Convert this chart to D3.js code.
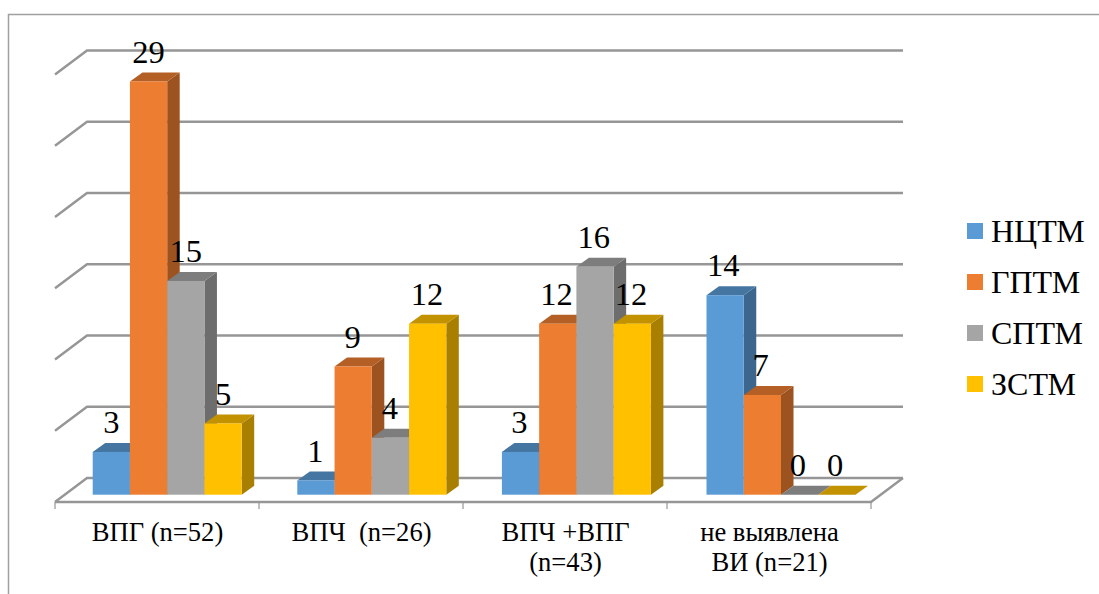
<!DOCTYPE html>
<html>
<head>
<meta charset="utf-8">
<script src="https://cdn.jsdelivr.net/npm/d3@7"></script>
<style>
  html, body { margin: 0; padding: 0; background: #fff; }
  text { font-family: "Liberation Serif", serif; fill: #000; }
</style>
</head>
<body>
<div id="chart"></div>
<script>
const categories = ['ВПГ (n=52)', 'ВПЧ  (n=26)', 'ВПЧ +ВПГ (n=43)', 'не выявлена ВИ (n=21)'];
const categoryLines = [['ВПГ (n=52)'], ['ВПЧ\u00a0\u00a0(n=26)'], ['ВПЧ +ВПГ', '(n=43)'], ['не выявлена', 'ВИ (n=21)']];
const seriesNames = ['НЦТМ', 'ГПТМ', 'СПТМ', 'ЗСТМ'];
const nctm = [3, 1, 3, 14];
const gptm = [29, 9, 12, 7];
const sptm = [15, 4, 16, 0];
const zstm = [5, 12, 12, 0];
const yTicks = [0, 5, 10, 15, 20, 25, 30];

const seriesValues = [nctm, gptm, sptm, zstm];
const colors = ['#5b9bd5', '#ed7d31', '#a5a5a5', '#ffc000'];

const width = 1099;
const height = 594;

const svg = d3.select('#chart')
  .append('svg')
  .attr('width', width)
  .attr('height', height)
  .style('display', 'block');

// chart frame, cut off by the picture on the right and at the bottom
svg.append('path')
  .attr('d', 'M8.5,594V14.5H1099')
  .attr('fill', 'none')
  .attr('stroke', '#a0a0a0')
  .attr('stroke-width', 1.5);

const x0 = d3.scaleBand().domain(categories).range([55, 871]);
// bar groups sit on a slightly wider step than the ticks
const groupX = d3.scaleBand().domain(categories).range([92.7, 92.7 + 4 * 204.6]);
const x1 = d3.scaleBand().domain(seriesNames).range([0, 149]);
// height of a value above the floor
const h = d3.scaleLinear().domain([0, 30]).range([0, 427.5]);

const wallDx = 32;
const wallDy = -24;
const floorY = 502;
const barDx = 12.5;
const barDy = -9;
const barBase = 494.7;

const gridColor = '#969696';

const shade = (c, k) => {
  const rgb = d3.rgb(c);
  return d3.rgb(rgb.r * k, rgb.g * k, rgb.b * k).formatHex();
};

// walls
const grid = svg.append('g')
  .attr('fill', 'none')
  .attr('stroke', gridColor)
  .attr('stroke-width', 2.4);

grid.selectAll('path')
  .data(yTicks)
  .join('path')
  .attr('d', (d) => {
    const y = floorY - h(d);
    return `M55,${y}L${55 + wallDx},${y + wallDy}H${871 + wallDx}`;
  });

grid.append('path')
  .attr('d', `M${871 + wallDx},${floorY + wallDy}L871,${floorY}H55`);

// tick marks under the floor
svg.append('g')
  .attr('stroke', gridColor)
  .attr('stroke-width', 1.2)
  .selectAll('line')
  .data(d3.range(categories.length + 1))
  .join('line')
  .attr('x1', (i) => 55 + x0.step() * i)
  .attr('x2', (i) => 55 + x0.step() * i)
  .attr('y1', floorY)
  .attr('y2', floorY + 7);

// bars
categories.forEach((cat, ci) => {
  const g = svg.append('g');
  seriesNames.forEach((name, si) => {
    const v = seriesValues[si][ci];
    const x = groupX(cat) + x1(name);
    const w = x1.bandwidth();
    const top = barBase - h(v);

    g.append('path')
      .attr('d', `M${x + w},${top}l${barDx},${barDy}V${barBase + barDy}L${x + w},${barBase}Z`)
      .attr('fill', shade(colors[si], 0.66));
    g.append('path')
      .attr('d', `M${x},${top}l${barDx},${barDy}h${w}l${-barDx},${-barDy}Z`)
      .attr('fill', shade(colors[si], 0.76));
    g.append('rect')
      .attr('x', x)
      .attr('y', top)
      .attr('width', w)
      .attr('height', barBase - top)
      .attr('fill', colors[si]);
  });
});

// value labels go on top of every bar, they follow the tick step
categories.forEach((cat, ci) => {
  seriesNames.forEach((name, si) => {
    const v = seriesValues[si][ci];
    svg.append('text')
      .attr('x', x0(cat) + 37.7 + x1(name) + x1.bandwidth() / 2)
      .attr('y', barBase - h(v) + barDy - 9.8)
      .attr('text-anchor', 'middle')
      .attr('font-size', 32.5)
      .text(v);
  });
});

// category labels
svg.append('g')
  .selectAll('text')
  .data(categories)
  .join('text')
  .attr('text-anchor', 'middle')
  .attr('font-size', 26.6)
  .attr('y', 541)
  .each(function (d, i) {
    d3.select(this)
      .selectAll('tspan')
      .data(categoryLines[i])
      .join('tspan')
      .attr('x', x0(d) + x0.bandwidth() / 2 + 0.5)
      .attr('dy', (_, j) => (j ? 30 : 0))
      .text((t) => t);
  });

// legend
const legendY = d3.scalePoint().domain(seriesNames).range([223, 376]);
const legend = svg.append('g')
  .selectAll('g')
  .data(seriesNames)
  .join('g')
  .attr('transform', (d) => `translate(967,${legendY(d)})`);

legend.append('rect')
  .attr('width', 16)
  .attr('height', 16)
  .attr('fill', (d, i) => colors[i]);

legend.append('text')
  .attr('x', 24)
  .attr('y', 19)
  .attr('font-size', 32)
  .text((d) => d);
</script>
</body>
</html>
